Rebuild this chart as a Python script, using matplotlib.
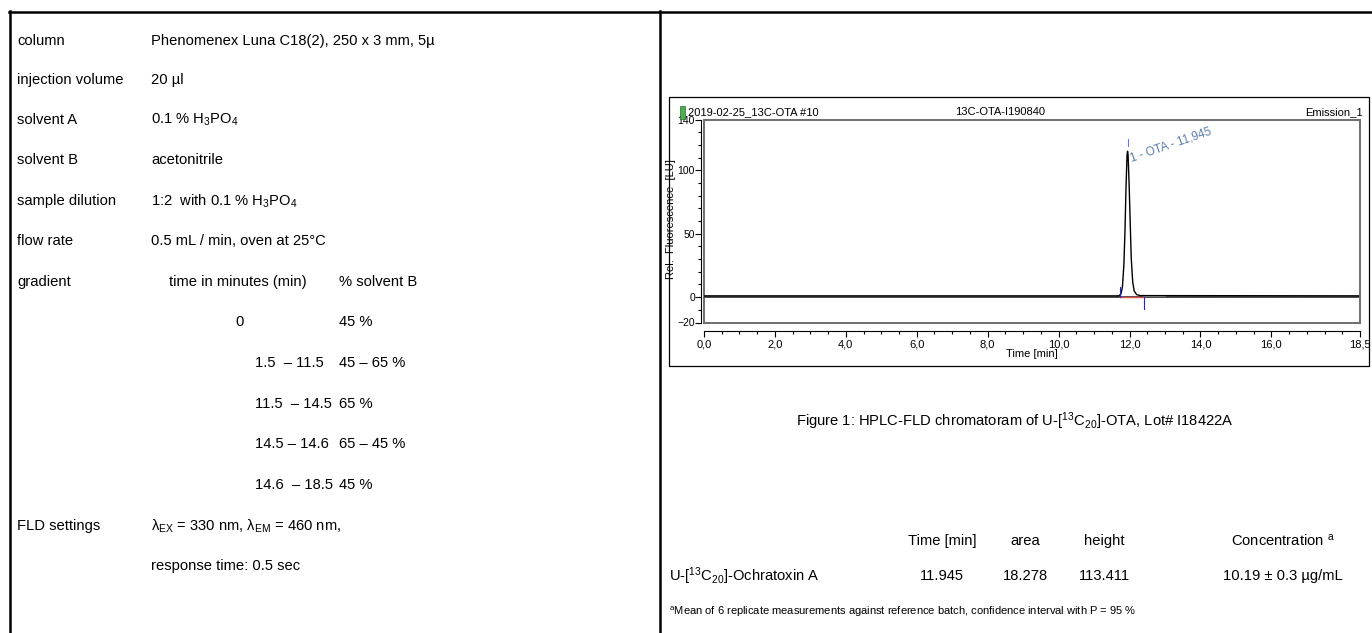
import matplotlib
matplotlib.use("Agg")
import matplotlib.pyplot as plt
from matplotlib.ticker import MultipleLocator, FixedLocator
from matplotlib.patches import Rectangle

plt.rcParams['font.family'] = ['Liberation Sans', 'DejaVu Sans']
plt.rcParams['mathtext.fontset'] = 'custom'
plt.rcParams['mathtext.rm'] = 'Liberation Sans'
plt.rcParams['mathtext.it'] = 'Liberation Sans:italic'
plt.rcParams['mathtext.default'] = 'regular'

# method parameters (left panel)
param_labels = ['column', 'injection volume', 'solvent A', 'solvent B',
                'sample dilution', 'flow rate', 'gradient']
param_values = ['Phenomenex Luna C18(2), 250 x 3 mm, 5µ', '20 µl',
                '0.1 % H$_3$PO$_4$', 'acetonitrile',
                '1:2  with 0.1 % H$_3$PO$_4$', '0.5 mL / min, oven at 25°C', '']
gradient_head = ['time in minutes (min)', '% solvent B']
gradient_times = ['0', '1.5  – 11.5', '11.5  – 14.5', '14.5 – 14.6', '14.6  – 18.5']
gradient_b = ['45 %', '45 – 65 %', '65 %', '65 – 45 %', '45 %']
fld_label = 'FLD settings'
fld_lines = [r'$\lambda_{EX}$ = 330 nm, $\lambda_{EM}$ = 460 nm,', 'response time: 0.5 sec']

# chromatogram trace (time in min, signal in LU)
trace_time = [0.0, 11.70, 11.76, 11.80, 11.84, 11.87, 11.90, 11.93, 11.945,
              11.96, 11.99, 12.02, 12.05, 12.09, 12.13, 12.20, 12.30, 18.5]
trace_signal = [1.0, 1.0, 2.5, 8, 25, 50, 85, 112, 115,
                112, 88, 58, 30, 12, 5, 2, 1.2, 1.0]
peak_name = '1 - OTA - 11,945'
peak_rt = 11.945
peak_start, peak_end, trace_grey_end = 11.73, 12.40, 12.99

xtick_vals = [0, 2, 4, 6, 8, 10, 12, 14, 16, 18.5]
xtick_labels = ['0,0', '2,0', '4,0', '6,0', '8,0', '10,0', '12,0', '14,0', '16,0', '18,5']
ytick_vals = [-20, 0, 50, 100, 140]

# results table
table_cols = ['Time [min]', 'area', 'height', 'Concentration $^{a}$']
table_row_name = 'U-[$^{13}$C$_{20}$]-Ochratoxin A'
table_row = ['11.945', '18.278', '113.411', '10.19 ± 0.3 µg/mL']
caption = 'Figure 1: HPLC-FLD chromatoram of U-[$^{13}$C$_{20}$]-OTA, Lot# I18422A'
footnote = '$^{a}$Mean of 6 replicate measurements against reference batch, confidence interval with P = 95 %'

W, H = 1372, 633
fig = plt.figure(figsize=(W / 100, H / 100), dpi=100)


def fx(x):
    return x / W


def fy(y):
    return 1 - y / H


# page frame
lines = [([9, W], [11.5, 11.5]), ([9.5, 9.5], [11, H]), ([660, 660], [11, H])]
for xs, ys in lines:
    fig.add_artist(plt.Line2D([fx(v) for v in xs], [fy(v) for v in ys],
                              color='black', lw=1.8))

# left panel text
fs = 10.6
row_y = [41, 80, 120, 160, 201, 241, 282]
for lab, val, y in zip(param_labels, param_values, row_y):
    fig.text(fx(17), fy(y), lab, fontsize=fs, va='center')
    fig.text(fx(151), fy(y), val, fontsize=fs, va='center')
fig.text(fx(238), fy(282), gradient_head[0], fontsize=fs, va='center', ha='center')
fig.text(fx(339), fy(282), gradient_head[1], fontsize=fs, va='center')
grad_y = [322, 363, 404, 444, 485]
for i, (t, b, y) in enumerate(zip(gradient_times, gradient_b, grad_y)):
    if i == 0:
        fig.text(fx(240), fy(y), t, fontsize=fs, va='center', ha='center')
    else:
        fig.text(fx(255), fy(y), t, fontsize=fs, va='center')
    fig.text(fx(339), fy(y), b, fontsize=fs, va='center')
fig.text(fx(17), fy(526), fld_label, fontsize=fs, va='center')
fig.text(fx(151), fy(526), fld_lines[0], fontsize=fs, va='center')
fig.text(fx(151), fy(566), fld_lines[1], fontsize=fs, va='center')

# chromatogram screenshot box
fig.add_artist(Rectangle((fx(669), fy(366)), fx(1369) - fx(669), fy(97) - fy(366),
                         fill=False, ec='black', lw=0.9, transform=fig.transFigure))
fig.add_artist(Rectangle((fx(680), fy(119)), fx(5), fy(106) - fy(119),
                         fc='#4caf50', ec='#2e6b30', lw=0.5, transform=fig.transFigure))
narrow = ['Liberation Sans Narrow', 'Liberation Sans', 'DejaVu Sans']
fig.text(fx(688), fy(112), '2019-02-25_13C-OTA #10', fontsize=8, family=narrow, va='center')
fig.text(fx(1000), fy(112), '13C-OTA-I190840', fontsize=8, family=narrow, va='center', ha='center')
fig.text(fx(1363), fy(112), 'Emission_1', fontsize=8, family=narrow, va='center', ha='right')

ax = fig.add_axes([fx(704), fy(322.5), fx(1360) - fx(704), fy(119.5) - fy(322.5)])
ax.set_xlim(0, 18.5)
ax.set_ylim(-20, 140)
ax.patch.set_alpha(0)
grey = '#6e6e6e'
for s in ('top', 'right'):
    ax.spines[s].set_color(grey)
    ax.spines[s].set_linewidth(1.4)
ax.spines['left'].set_position(('outward', 2))
ax.spines['left'].set_linewidth(0.8)
ax.spines['bottom'].set_position(('outward', 6))
ax.spines['bottom'].set_linewidth(0.8)
ax.axvline(0, color=grey, lw=1.4, clip_on=False)
ax.axhline(-20, color=grey, lw=1.4, clip_on=False)
ax.axhline(0, color='#4a4a4a', lw=1.4)

ax.plot([peak_end, trace_grey_end], [1.2, 1.2], color='#b0b0b0', lw=1.2)
ax.plot([peak_start, peak_end], [0.3, 0.3], color='#e05050', lw=1.0)
ax.plot(trace_time, trace_signal, color='black', lw=1.0)
ax.plot([peak_start, peak_start], [0, 8], color='#2020e0', lw=0.8)
ax.plot([peak_end, peak_end], [0, -9], color='#2020e0', lw=0.8)
ax.plot([peak_rt, peak_rt], [119, 125], color='#7070ff', lw=0.8)
ax.text(peak_rt + 0.1, 107, peak_name, rotation=19, color='#5a7db0',
        fontsize=8.5, family=narrow, rotation_mode='anchor')

ax.xaxis.set_major_locator(FixedLocator(xtick_vals))
ax.set_xticklabels(xtick_labels)
ax.xaxis.set_minor_locator(MultipleLocator(0.5))
ax.yaxis.set_major_locator(FixedLocator(ytick_vals))
ax.yaxis.set_minor_locator(MultipleLocator(10))
ax.tick_params(which='major', length=4, width=0.8, labelsize=8, pad=2)
ax.tick_params(which='minor', length=2.5, width=0.8)
ax.tick_params(axis='y', which='major', labelsize=7.5, pad=0.5)
for lab in ax.get_xticklabels() + ax.get_yticklabels():
    lab.set_family(narrow)
ax.set_xlabel('Time [min]', fontsize=8, family=narrow, labelpad=0)
ax.set_ylabel('Rel.  Fluorescence  [LU]', fontsize=8)
ax.yaxis.set_label_coords((676 - 704) / (1360 - 704), (322.5 - 219) / (322.5 - 119.5))

# caption and result table
fig.text(fx(1015), fy(421), caption, fontsize=fs, ha='center', va='center')
col_x = [942, 1025, 1104, 1283]
for c, x in zip(table_cols, col_x):
    fig.text(fx(x), fy(541), c, fontsize=fs, ha='center', va='center')
fig.text(fx(669), fy(576), table_row_name, fontsize=fs, va='center')
for v, x in zip(table_row, col_x):
    fig.text(fx(x), fy(576), v, fontsize=fs, ha='center', va='center')
fig.text(fx(669), fy(612), footnote, fontsize=8, va='center')

fig.savefig('out.png', dpi=100)
